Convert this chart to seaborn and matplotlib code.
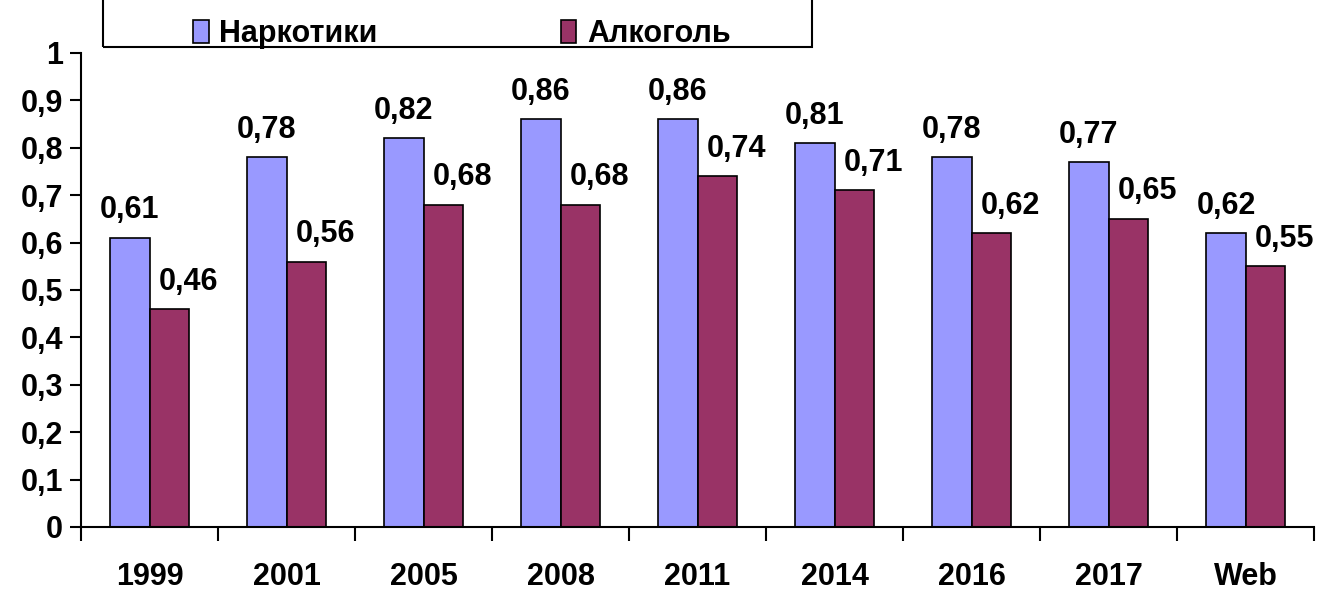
import pandas as pd
import matplotlib.pyplot as plt
import matplotlib.patches as mpatches
import seaborn as sns
import numpy as np

# Data
years = ['1999', '2001', '2005', '2008', '2011', '2014', '2016', '2017', 'Web']
drugs = [0.61, 0.78, 0.82, 0.86, 0.86, 0.81, 0.78, 0.77, 0.62]
alcohol = [0.46, 0.56, 0.68, 0.68, 0.74, 0.71, 0.62, 0.65, 0.55]
series_names = ['Наркотики', 'Алкоголь']
colors = ['#9999FF', '#993366']

df = pd.DataFrame({
    'year': years * 2,
    'series': [series_names[0]] * len(years) + [series_names[1]] * len(years),
    'value': drugs + alcohol,
})

sns.set_style("white")
plt.rcParams['font.family'] = ['Liberation Sans', 'DejaVu Sans']
plt.rcParams['font.weight'] = 'bold'
plt.rcParams['text.color'] = 'black'
plt.rcParams['xtick.color'] = 'black'
plt.rcParams['ytick.color'] = 'black'

fig = plt.figure(figsize=(13.2, 5.92), dpi=100)
ax = fig.add_axes([81 / 1320, 1 - 527 / 592, 1233 / 1320, 474 / 592])

sns.barplot(data=df, x='year', y='value', hue='series', hue_order=series_names,
            palette=colors, width=0.57, edgecolor='black', linewidth=1.2,
            saturation=1, ax=ax, legend=False)

# Data labels
label_dx = [0, 14]
for i, cont in enumerate(ax.containers):
    for bar in cont:
        h = bar.get_height()
        ax.annotate(f'{h:.2f}'.replace('.', ','),
                    (bar.get_x() + bar.get_width() / 2, h),
                    xytext=(label_dx[i], 14), textcoords='offset points',
                    ha='center', va='baseline', fontsize=22, fontweight='bold',
                    color='black', annotation_clip=False)

ax.set_xlim(-0.5, len(years) - 0.5)
ax.set_ylim(0, 1)
ax.set_yticks(np.arange(0, 1.01, 0.1))
ax.set_yticklabels(['0'] + [f'{v:.1f}'.replace('.', ',') for v in np.arange(0.1, 0.95, 0.1)] + ['1'])
ax.set_xlabel('')
ax.set_ylabel('')

# x ticks: labels at centers, tick marks at category boundaries
ax.set_xticks(np.arange(-0.5, len(years), 1.0), minor=True)
ax.tick_params(axis='x', which='major', length=0, pad=25, labelsize=22, labelcolor='black')
ax.tick_params(axis='x', which='minor', length=10, width=1.5, direction='out', bottom=True)
ax.tick_params(axis='y', length=8, width=1.5, direction='out', left=True, labelsize=22,
               pad=5, labelcolor='black')
for lbl in ax.get_xticklabels() + ax.get_yticklabels():
    lbl.set_fontweight('bold')

sns.despine(ax=ax)
for side in ['left', 'bottom']:
    ax.spines[side].set_linewidth(1.5)
    ax.spines[side].set_color('black')
ax.grid(False)

# Legend with a separate frame
handles = [mpatches.Patch(facecolor=c, edgecolor='black', linewidth=1.2) for c in colors]
leg = fig.legend(handles, series_names, loc='center', bbox_to_anchor=(462 / 1320, 1 - 34 / 592),
                 ncol=2, frameon=False, prop={'weight': 'bold', 'size': 22},
                 handlelength=0.5, handleheight=0.75, handletextpad=0.35, columnspacing=6.0)
for t in leg.get_texts():
    t.set_color('black')
fig.patches.append(mpatches.Rectangle((103 / 1320, 1 - 47 / 592), 709 / 1320, 0.2,
                                      transform=fig.transFigure, fill=False,
                                      edgecolor='black', linewidth=1.5))

fig.savefig('out.png', dpi=100)
